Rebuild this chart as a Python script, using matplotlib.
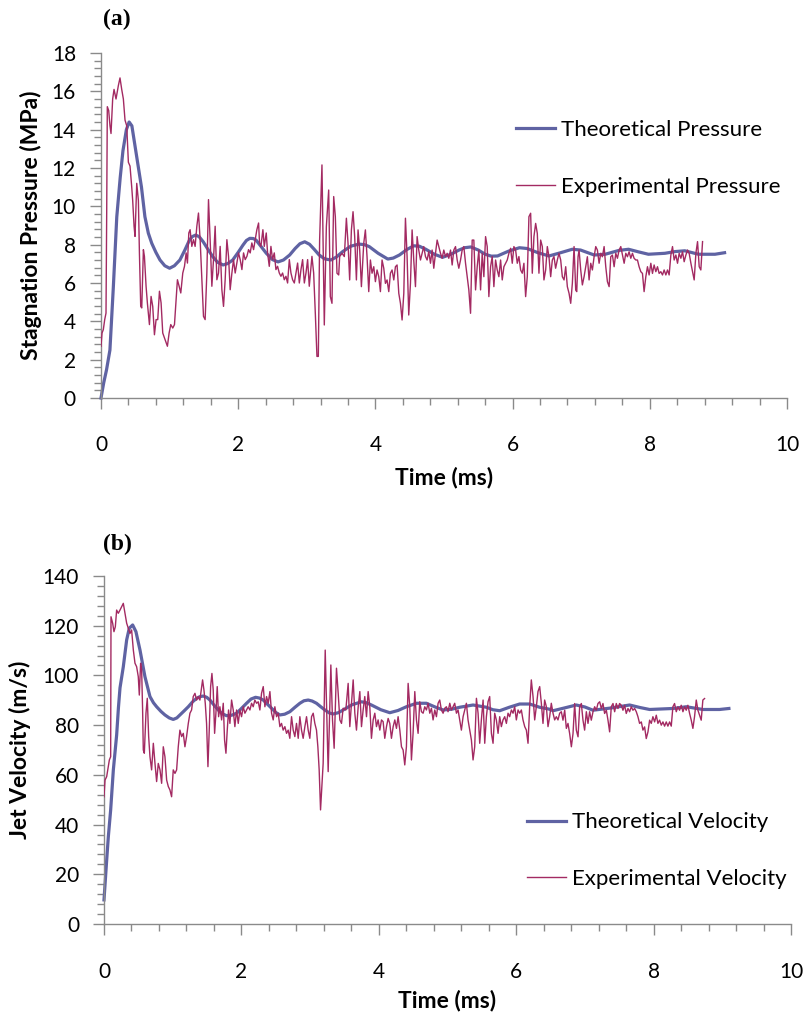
import numpy as np
import matplotlib
matplotlib.use("Agg")
import matplotlib.pyplot as plt
from matplotlib.ticker import MultipleLocator

# ---- data (time in ms) ----
theo_pressure = [
    (0.00, 0.0), (0.04, 0.8), (0.08, 1.46), (0.13, 2.5), (0.18, 5.8), (0.23, 9.45), (0.28, 11.5),
    (0.32, 12.9), (0.37, 14.0), (0.41, 14.4), (0.45, 14.2), (0.52, 12.6), (0.59, 11.0),
    (0.64, 9.46), (0.69, 8.6), (0.74, 8.07), (0.80, 7.6), (0.86, 7.2), (0.93, 6.9), (1.00, 6.77),
    (1.07, 6.9), (1.15, 7.2), (1.22, 7.7), (1.29, 8.24), (1.33, 8.42), (1.38, 8.5), (1.43, 8.42),
    (1.49, 8.15), (1.56, 7.75), (1.63, 7.37), (1.70, 7.08), (1.78, 6.94), (1.85, 7.02),
    (1.92, 7.2), (2.00, 7.6), (2.07, 7.98), (2.12, 8.22), (2.17, 8.33), (2.22, 8.32), (2.26, 8.24),
    (2.33, 7.92), (2.41, 7.55), (2.50, 7.22), (2.58, 7.1), (2.66, 7.2), (2.75, 7.46),
    (2.83, 7.8), (2.90, 8.05), (2.97, 8.15), (3.04, 8.02), (3.11, 7.75), (3.18, 7.46),
    (3.26, 7.26), (3.35, 7.2), (3.43, 7.35), (3.52, 7.63), (3.64, 7.92), (3.76, 8.03),
    (3.84, 8.0), (3.91, 7.9), (4.04, 7.55), (4.18, 7.25), (4.26, 7.3), (4.35, 7.46),
    (4.46, 7.75), (4.56, 7.94), (4.64, 7.92), (4.73, 7.77), (4.86, 7.5), (4.98, 7.34),
    (5.10, 7.5), (5.22, 7.72), (5.30, 7.84), (5.39, 7.88), (5.50, 7.72), (5.60, 7.5),
    (5.69, 7.4), (5.78, 7.41), (5.94, 7.66), (6.10, 7.84), (6.21, 7.8), (6.37, 7.58),
    (6.53, 7.41), (6.70, 7.58), (6.87, 7.76), (6.99, 7.72), (7.19, 7.46), (7.35, 7.5),
    (7.55, 7.7), (7.69, 7.76), (7.84, 7.62), (7.98, 7.5), (8.22, 7.55), (8.37, 7.64),
    (8.51, 7.68), (8.71, 7.5), (8.95, 7.5), (9.09, 7.58),
]

exp_pressure = [
    (0.000, 2.70), (0.015, 3.39), (0.034, 3.57), (0.054, 4.09), (0.073, 4.43), (0.083, 9.65),
    (0.092, 15.2), (0.112, 15.0), (0.131, 14.2), (0.146, 13.8), (0.170, 15.6), (0.190, 16.1),
    (0.219, 15.6), (0.253, 16.3), (0.277, 16.7), (0.302, 16.1), (0.326, 15.6), (0.350, 14.5),
    (0.375, 14.2), (0.399, 12.3), (0.423, 12.1), (0.448, 11.0), (0.462, 10.3), (0.482, 8.96),
    (0.496, 8.43), (0.521, 11.2), (0.545, 10.3), (0.560, 7.57), (0.579, 4.78), (0.594, 4.70),
    (0.618, 7.74), (0.633, 7.39), (0.657, 5.83), (0.676, 4.96), (0.706, 3.83), (0.730, 5.30),
    (0.754, 4.78), (0.779, 3.30), (0.803, 4.09), (0.827, 4.09), (0.852, 5.57), (0.876, 4.96),
    (0.900, 3.39), (0.934, 3.04), (0.968, 2.70), (0.993, 3.39), (1.017, 3.83), (1.046, 3.65),
    (1.071, 3.83), (1.095, 5.13), (1.114, 6.17), (1.139, 5.83), (1.163, 5.48), (1.192, 6.52),
    (1.217, 6.87), (1.241, 7.57), (1.260, 7.04), (1.280, 8.61), (1.299, 8.78), (1.324, 7.91),
    (1.348, 8.26), (1.372, 7.91), (1.397, 8.96), (1.421, 9.65), (1.445, 8.26), (1.470, 6.17),
    (1.494, 4.26), (1.518, 4.09), (1.543, 6.52), (1.567, 10.35), (1.591, 8.26), (1.616, 5.83),
    (1.640, 7.22), (1.664, 8.96), (1.689, 6.17), (1.713, 6.52), (1.737, 7.91), (1.762, 5.65),
    (1.786, 4.78), (1.810, 6.17), (1.835, 8.26), (1.859, 7.39), (1.883, 5.65), (1.908, 6.52),
    (1.932, 7.22), (1.956, 6.52), (1.981, 7.04), (2.005, 7.57), (2.029, 7.22), (2.054, 6.70),
    (2.078, 7.57), (2.102, 7.22), (2.127, 7.39), (2.151, 7.74), (2.175, 7.57), (2.199, 8.09),
    (2.224, 7.74), (2.248, 8.26), (2.272, 8.78), (2.297, 9.13), (2.311, 8.09), (2.331, 7.91),
    (2.360, 8.78), (2.380, 7.91), (2.409, 8.61), (2.428, 7.57), (2.453, 6.87), (2.477, 7.91),
    (2.501, 7.22), (2.526, 7.57), (2.550, 6.70), (2.574, 6.87), (2.599, 6.52), (2.623, 6.35),
    (2.647, 6.52), (2.672, 6.17), (2.696, 6.35), (2.720, 6.00), (2.745, 7.22), (2.769, 6.52),
    (2.793, 6.17), (2.818, 6.00), (2.842, 6.52), (2.866, 7.04), (2.891, 6.00), (2.915, 6.70),
    (2.939, 7.22), (2.964, 6.00), (2.988, 6.52), (3.012, 7.22), (3.036, 5.83), (3.061, 6.87),
    (3.075, 7.39), (3.100, 6.52), (3.124, 4.43), (3.148, 2.17), (3.168, 2.17), (3.187, 8.26),
    (3.221, 12.16), (3.255, 3.81), (3.285, 8.94), (3.319, 10.85), (3.343, 5.29), (3.367, 4.94),
    (3.392, 10.51), (3.416, 9.46), (3.440, 6.51), (3.465, 6.42), (3.479, 7.38), (3.513, 7.55),
    (3.547, 7.38), (3.577, 9.38), (3.601, 8.07), (3.625, 6.16), (3.650, 8.77), (3.674, 9.72),
    (3.698, 8.42), (3.723, 6.16), (3.747, 8.77), (3.771, 7.72), (3.796, 5.81), (3.830, 8.07),
    (3.854, 8.77), (3.878, 7.38), (3.903, 5.55), (3.927, 7.20), (3.951, 6.51), (3.976, 6.85),
    (4.000, 6.07), (4.024, 6.68), (4.049, 6.33), (4.073, 5.55), (4.097, 7.20), (4.122, 6.77),
    (4.146, 5.98), (4.170, 6.16), (4.195, 5.55), (4.219, 6.51), (4.243, 6.68), (4.268, 6.16),
    (4.292, 6.85), (4.316, 6.94), (4.341, 5.46), (4.365, 4.94), (4.389, 4.07), (4.414, 5.46),
    (4.438, 9.38), (4.462, 7.38), (4.486, 4.33), (4.511, 5.98), (4.535, 8.77), (4.559, 7.20),
    (4.584, 5.81), (4.608, 8.42), (4.632, 7.72), (4.657, 7.20), (4.681, 7.55), (4.705, 7.90),
    (4.730, 7.38), (4.754, 7.20), (4.778, 7.64), (4.803, 7.03), (4.827, 7.72), (4.851, 6.77),
    (4.876, 7.55), (4.900, 8.24), (4.924, 7.90), (4.949, 7.55), (4.973, 7.29), (4.997, 7.72),
    (5.022, 7.38), (5.046, 7.55), (5.070, 7.29), (5.095, 7.72), (5.119, 6.94), (5.143, 7.72),
    (5.168, 7.90), (5.192, 7.20), (5.216, 6.77), (5.241, 7.20), (5.265, 7.72), (5.289, 7.90),
    (5.314, 7.03), (5.338, 6.33), (5.362, 5.64), (5.387, 4.42), (5.411, 8.24), (5.435, 8.24),
    (5.460, 5.64), (5.484, 6.85), (5.508, 7.72), (5.533, 5.64), (5.557, 7.55), (5.581, 6.33),
    (5.606, 8.42), (5.630, 7.90), (5.654, 5.29), (5.679, 6.85), (5.703, 7.38), (5.727, 5.81),
    (5.752, 7.20), (5.776, 6.68), (5.800, 6.33), (5.825, 7.20), (5.849, 6.16), (5.873, 6.85),
    (5.898, 7.03), (5.922, 7.20), (5.946, 7.55), (5.971, 7.81), (5.995, 7.03), (6.019, 7.90),
    (6.044, 7.72), (6.068, 7.03), (6.092, 7.38), (6.117, 6.68), (6.141, 6.51), (6.165, 7.03),
    (6.190, 5.29), (6.214, 6.33), (6.238, 9.46), (6.263, 9.64), (6.287, 6.51), (6.311, 8.42),
    (6.336, 9.11), (6.360, 8.59), (6.384, 6.51), (6.409, 8.24), (6.433, 7.90), (6.457, 6.16),
    (6.482, 6.68), (6.506, 7.90), (6.530, 7.38), (6.555, 6.33), (6.579, 7.20), (6.603, 7.38),
    (6.627, 6.77), (6.652, 7.20), (6.676, 7.55), (6.701, 7.20), (6.725, 6.33), (6.750, 6.16),
    (6.774, 6.85), (6.798, 5.81), (6.823, 5.46), (6.847, 4.94), (6.871, 5.98), (6.896, 7.90),
    (6.920, 5.63), (6.935, 5.55), (6.954, 7.37), (6.969, 7.72), (6.993, 6.68), (7.017, 5.90),
    (7.042, 6.33), (7.066, 6.85), (7.090, 7.37), (7.115, 6.16), (7.139, 7.03), (7.163, 6.68),
    (7.188, 7.37), (7.212, 7.90), (7.236, 7.72), (7.261, 7.03), (7.285, 7.55), (7.309, 7.37),
    (7.334, 7.90), (7.358, 6.85), (7.382, 6.07), (7.407, 5.81), (7.431, 7.37), (7.455, 7.46),
    (7.480, 6.85), (7.504, 7.55), (7.528, 7.29), (7.553, 7.72), (7.577, 7.90), (7.601, 7.46),
    (7.626, 7.03), (7.650, 7.55), (7.674, 7.37), (7.698, 7.63), (7.723, 7.29), (7.747, 7.55),
    (7.771, 7.29), (7.796, 7.20), (7.820, 7.20), (7.844, 6.85), (7.869, 6.59), (7.893, 6.50),
    (7.917, 5.55), (7.942, 6.33), (7.966, 6.85), (7.990, 6.42), (8.015, 7.03), (8.039, 6.50),
    (8.063, 6.94), (8.088, 6.59), (8.112, 6.85), (8.136, 6.50), (8.161, 6.59), (8.185, 6.42),
    (8.209, 6.68), (8.234, 6.42), (8.258, 6.68), (8.282, 6.42), (8.307, 7.46), (8.331, 7.90),
    (8.355, 7.20), (8.380, 7.46), (8.404, 7.03), (8.428, 7.55), (8.453, 7.29), (8.477, 7.63),
    (8.501, 7.11), (8.526, 7.46), (8.550, 7.72), (8.574, 7.55), (8.599, 7.03), (8.623, 6.59),
    (8.647, 6.16), (8.672, 7.55), (8.696, 8.16), (8.720, 6.85), (8.744, 6.68), (8.769, 8.16),
]

theo_velocity = [
    (0.000, 9.7), (0.039, 25.7), (0.063, 35.1), (0.097, 45.9), (0.136, 62.0), (0.184, 76.0),
    (0.210, 87.0), (0.233, 95.0), (0.281, 103.5), (0.330, 114.3), (0.368, 119.0), (0.417, 120.3),
    (0.465, 117.6), (0.524, 110.2), (0.596, 99.5), (0.669, 91.5), (0.720, 89.0), (0.766, 87.4),
    (0.830, 85.5), (0.887, 84.1), (0.950, 82.9), (1.008, 82.3), (1.060, 82.9), (1.105, 84.1),
    (1.165, 85.7), (1.227, 87.4), (1.290, 89.4), (1.348, 90.8), (1.400, 91.5), (1.445, 91.7),
    (1.495, 91.2), (1.542, 90.1), (1.600, 88.1), (1.663, 86.1), (1.720, 84.6), (1.784, 83.8),
    (1.860, 84.0), (1.930, 84.8), (2.000, 86.7), (2.075, 88.8), (2.140, 90.5), (2.206, 91.2),
    (2.262, 90.9), (2.318, 90.1), (2.380, 88.4), (2.439, 86.8), (2.500, 85.1), (2.560, 84.1),
    (2.630, 84.4), (2.705, 85.4), (2.780, 87.2), (2.851, 88.8), (2.910, 89.8), (2.972, 90.1),
    (3.030, 89.7), (3.093, 88.8), (3.155, 87.4), (3.215, 86.1), (3.280, 84.9), (3.336, 84.5),
    (3.410, 85.0), (3.481, 86.1), (3.610, 88.2), (3.748, 89.4), (3.820, 89.0), (3.893, 88.1),
    (4.030, 86.2), (4.160, 85.0), (4.280, 85.9), (4.402, 87.4), (4.548, 88.8), (4.693, 88.8),
    (4.820, 87.3), (4.936, 86.1), (5.060, 86.4), (5.178, 87.2), (5.372, 88.1), (5.566, 87.2),
    (5.660, 86.2), (5.760, 85.8), (5.900, 87.2), (6.050, 88.5), (6.196, 88.5), (6.340, 87.2),
    (6.487, 86.4), (6.536, 85.8), (6.700, 86.9), (6.875, 88.1), (7.000, 87.3), (7.118, 86.0),
    (7.380, 86.9), (7.651, 88.1), (7.800, 87.1), (7.942, 86.3), (8.281, 86.7), (8.475, 87.4),
    (8.717, 86.3), (8.960, 86.3), (9.096, 86.7),
]

exp_velocity = [
    (0.000, 51.2), (0.015, 57.9), (0.039, 59.3), (0.063, 63.3), (0.078, 66.0), (0.097, 67.3),
    (0.102, 123.6), (0.126, 121.0), (0.145, 117.6), (0.165, 119.6), (0.184, 126.3), (0.208, 125.0),
    (0.233, 126.3), (0.257, 127.7), (0.281, 129.0), (0.305, 125.0), (0.330, 121.0), (0.354, 118.9),
    (0.378, 116.9), (0.402, 118.3), (0.427, 110.2), (0.451, 104.9), (0.475, 103.5), (0.499, 99.5),
    (0.514, 92.1), (0.533, 104.9), (0.548, 102.2), (0.562, 86.1), (0.572, 70.0), (0.587, 68.7),
    (0.611, 84.8), (0.630, 90.8), (0.650, 75.4), (0.669, 67.3), (0.693, 62.0), (0.718, 72.7),
    (0.742, 64.6), (0.766, 57.3), (0.790, 64.6), (0.815, 62.0), (0.839, 56.6), (0.863, 71.3),
    (0.887, 67.3), (0.912, 57.9), (0.936, 55.3), (0.960, 53.9), (0.984, 51.2), (1.008, 62.0),
    (1.033, 60.6), (1.057, 62.0), (1.081, 71.3), (1.105, 78.0), (1.130, 75.4), (1.154, 76.7),
    (1.178, 71.3), (1.202, 75.4), (1.227, 80.7), (1.251, 84.8), (1.275, 86.1), (1.299, 91.5),
    (1.324, 92.8), (1.348, 90.1), (1.372, 91.5), (1.396, 90.1), (1.421, 95.5), (1.435, 98.2),
    (1.455, 94.1), (1.474, 88.8), (1.493, 80.7), (1.513, 63.3), (1.532, 78.0), (1.552, 95.5),
    (1.571, 100.8), (1.590, 94.1), (1.610, 76.7), (1.629, 84.8), (1.648, 95.5), (1.668, 83.4),
    (1.687, 87.4), (1.712, 82.1), (1.736, 88.8), (1.755, 74.0), (1.775, 68.7), (1.794, 78.0),
    (1.813, 86.1), (1.833, 80.7), (1.857, 90.1), (1.881, 86.1), (1.905, 79.4), (1.930, 86.1),
    (1.954, 80.7), (1.978, 86.1), (2.002, 83.4), (2.027, 87.4), (2.051, 84.8), (2.075, 86.1),
    (2.099, 87.4), (2.124, 86.1), (2.148, 88.8), (2.172, 87.4), (2.196, 90.1), (2.221, 88.8),
    (2.245, 89.4), (2.269, 86.1), (2.293, 92.8), (2.318, 95.5), (2.342, 87.4), (2.366, 91.5),
    (2.390, 88.8), (2.415, 93.5), (2.439, 84.8), (2.463, 82.1), (2.487, 87.4), (2.512, 83.4),
    (2.536, 84.8), (2.560, 79.4), (2.584, 80.7), (2.608, 78.0), (2.633, 79.4), (2.657, 76.7),
    (2.681, 78.0), (2.705, 74.7), (2.730, 83.4), (2.754, 78.0), (2.778, 75.4), (2.802, 80.7),
    (2.827, 74.7), (2.851, 83.4), (2.875, 78.0), (2.899, 74.7), (2.924, 79.4), (2.948, 83.4),
    (2.972, 78.0), (2.996, 74.7), (3.021, 83.4), (3.045, 84.8), (3.069, 80.7), (3.093, 78.0),
    (3.113, 71.3), (3.132, 62.0), (3.152, 45.9), (3.190, 64.6), (3.220, 110.2), (3.263, 61.3),
    (3.302, 104.2), (3.326, 82.1), (3.350, 70.7), (3.384, 102.9), (3.409, 92.8), (3.433, 82.1),
    (3.457, 80.7), (3.481, 86.8), (3.520, 86.1), (3.554, 96.8), (3.578, 79.4), (3.603, 88.8),
    (3.627, 98.2), (3.651, 84.8), (3.675, 78.0), (3.700, 87.4), (3.724, 93.5), (3.748, 79.4),
    (3.772, 86.1), (3.796, 91.5), (3.821, 83.4), (3.845, 93.5), (3.869, 87.4), (3.893, 74.7),
    (3.918, 82.1), (3.942, 84.8), (3.966, 79.4), (3.990, 82.1), (4.015, 78.0), (4.039, 82.1),
    (4.063, 81.4), (4.087, 74.7), (4.112, 79.4), (4.136, 82.7), (4.160, 80.7), (4.184, 74.7),
    (4.209, 79.4), (4.233, 82.1), (4.257, 78.7), (4.281, 83.4), (4.306, 78.0), (4.330, 71.3),
    (4.354, 70.0), (4.378, 64.0), (4.402, 71.3), (4.427, 96.8), (4.451, 87.4), (4.475, 66.0),
    (4.499, 76.7), (4.524, 93.5), (4.548, 82.1), (4.572, 76.7), (4.596, 89.4), (4.621, 85.4),
    (4.645, 84.8), (4.669, 87.4), (4.693, 86.1), (4.718, 88.8), (4.742, 84.8), (4.766, 86.8),
    (4.790, 82.1), (4.815, 86.1), (4.839, 83.4), (4.863, 88.8), (4.887, 90.1), (4.911, 86.1),
    (4.936, 84.8), (4.960, 86.8), (4.984, 87.4), (5.008, 85.4), (5.033, 88.8), (5.057, 86.1),
    (5.081, 87.4), (5.105, 88.8), (5.130, 84.8), (5.154, 86.1), (5.178, 82.1), (5.202, 78.0),
    (5.227, 83.4), (5.251, 86.1), (5.275, 88.8), (5.299, 82.1), (5.324, 78.0), (5.348, 74.0),
    (5.372, 66.0), (5.396, 71.3), (5.421, 90.8), (5.445, 84.8), (5.469, 72.7), (5.493, 82.1),
    (5.518, 90.1), (5.542, 72.7), (5.566, 83.4), (5.590, 89.4), (5.614, 91.5), (5.639, 76.7),
    (5.663, 72.7), (5.687, 84.8), (5.711, 82.1), (5.736, 76.7), (5.760, 83.4), (5.784, 79.4),
    (5.808, 82.1), (5.833, 83.4), (5.857, 80.7), (5.881, 84.8), (5.905, 83.4), (5.930, 86.1),
    (5.954, 84.8), (5.978, 87.4), (6.002, 82.1), (6.027, 86.1), (6.051, 84.8), (6.075, 86.1),
    (6.099, 82.1), (6.124, 79.4), (6.148, 78.0), (6.172, 72.7), (6.196, 87.4), (6.220, 98.2),
    (6.245, 91.5), (6.269, 82.1), (6.293, 87.4), (6.317, 93.5), (6.342, 95.5), (6.366, 88.8),
    (6.390, 80.7), (6.414, 90.1), (6.439, 87.4), (6.463, 79.4), (6.487, 83.4), (6.511, 88.8),
    (6.536, 84.8), (6.560, 82.1), (6.584, 83.4), (6.608, 82.1), (6.633, 84.8), (6.657, 85.4),
    (6.681, 82.0), (6.706, 86.0), (6.730, 78.7), (6.754, 80.7), (6.778, 76.6), (6.803, 71.3),
    (6.827, 76.6), (6.851, 88.7), (6.875, 78.0), (6.900, 75.3), (6.924, 87.4), (6.948, 88.7),
    (6.972, 82.0), (6.996, 78.0), (7.021, 85.4), (7.045, 80.7), (7.069, 85.4), (7.093, 82.0),
    (7.118, 85.4), (7.142, 87.4), (7.166, 86.0), (7.190, 88.7), (7.215, 89.4), (7.239, 86.7),
    (7.263, 88.7), (7.287, 84.7), (7.312, 86.0), (7.336, 82.0), (7.360, 77.3), (7.384, 87.4),
    (7.409, 88.7), (7.433, 85.4), (7.457, 88.7), (7.481, 86.7), (7.505, 88.7), (7.530, 88.0),
    (7.554, 86.0), (7.578, 88.0), (7.602, 84.7), (7.627, 86.7), (7.651, 85.4), (7.675, 87.4),
    (7.699, 86.0), (7.724, 86.7), (7.748, 85.4), (7.772, 83.4), (7.796, 80.7), (7.821, 81.3),
    (7.845, 78.0), (7.869, 79.3), (7.893, 74.6), (7.918, 77.3), (7.942, 82.0), (7.966, 80.7),
    (7.990, 83.4), (8.015, 81.3), (8.039, 84.0), (8.063, 80.7), (8.087, 82.0), (8.112, 80.0),
    (8.136, 81.3), (8.160, 79.6), (8.184, 81.3), (8.208, 79.6), (8.233, 81.3), (8.257, 79.6),
    (8.281, 87.4), (8.305, 88.7), (8.330, 85.4), (8.354, 87.4), (8.378, 86.0), (8.402, 88.0),
    (8.427, 85.4), (8.451, 87.4), (8.475, 86.0), (8.499, 88.0), (8.524, 84.7), (8.548, 82.0),
    (8.572, 78.7), (8.596, 83.4), (8.621, 90.1), (8.645, 86.0), (8.669, 84.0), (8.693, 82.0),
    (8.717, 90.1), (8.742, 90.7),
]

BLUE = "#5f63a3"
RED = "#a32a62"
GREY = "#8a8a8a"

plt.rcParams["font.family"] = ["Lato", "DejaVu Sans"]

TICK_FS = 15
LABEL_FS = 16.5
LEG_FS = 16


def style_axes(ax, ymax, ymajor, yminor):
    ax.set_xlim(0, 10)
    ax.set_ylim(0, ymax)
    ax.xaxis.set_major_locator(MultipleLocator(2))
    ax.xaxis.set_minor_locator(MultipleLocator(0.4))
    ax.yaxis.set_major_locator(MultipleLocator(ymajor))
    ax.yaxis.set_minor_locator(MultipleLocator(yminor))
    for side in ["top", "right"]:
        ax.spines[side].set_visible(False)
    for side in ["left", "bottom"]:
        ax.spines[side].set_color(GREY)
        ax.spines[side].set_linewidth(1.0)
    ax.tick_params(which="major", direction="out", length=8, width=1, color=GREY,
                   labelsize=TICK_FS, labelcolor="black")
    ax.tick_params(which="minor", direction="out", length=5, width=1, color=GREY)
    ax.tick_params(axis="x", which="major", pad=19)
    ax.tick_params(axis="y", which="major", pad=10)


def draw_panel(ax, theo, exp, theo_label, exp_label):
    tt, yt = np.array(theo).T
    te, ye = np.array(exp).T
    ax.plot(tt, yt, color=BLUE, lw=2.3, label=theo_label, clip_on=False, zorder=2,
            solid_joinstyle="round")
    ax.plot(te, ye, color=RED, lw=1.0, label=exp_label, zorder=3)


def add_legend(ax, x, y):
    ax.legend(loc="upper left", bbox_to_anchor=(x, y), frameon=False, fontsize=LEG_FS,
              handlelength=1.76, handletextpad=0.25, labelspacing=1.65, borderpad=0,
              borderaxespad=0)


fig = plt.figure(figsize=(8.06, 10.27), dpi=100)

ax1 = fig.add_axes([101 / 806, 1 - 398 / 1027, 686 / 806, 345 / 1027])
draw_panel(ax1, theo_pressure, exp_pressure, "Theoretical Pressure", "Experimental Pressure")
style_axes(ax1, 18, 2, 0.4)
ax1.set_xlabel("Time (ms)", fontsize=LABEL_FS, fontweight="bold")
ax1.xaxis.set_label_coords(0.5, -0.2)
ax1.set_ylabel("Stagnation Pressure (MPa)", fontsize=LABEL_FS, fontweight="bold")
ax1.yaxis.set_label_coords(-0.086, 0.5)
add_legend(ax1, 0.605, 0.805)

ax2 = fig.add_axes([104 / 806, 1 - 924 / 1027, 687 / 806, 348 / 1027])
draw_panel(ax2, theo_velocity, exp_velocity, "Theoretical Velocity", "Experimental Velocity")
style_axes(ax2, 140, 20, 4)
ax2.set_xlabel("Time (ms)", fontsize=LABEL_FS, fontweight="bold")
ax2.xaxis.set_label_coords(0.5, -0.19)
ax2.set_ylabel("Jet Velocity (m/s)", fontsize=LABEL_FS, fontweight="bold")
ax2.yaxis.set_label_coords(-0.106, 0.5)
add_legend(ax2, 0.616, 0.321)

fig.text(103 / 806, 1 - 19 / 1027, "(a)", family=["Liberation Serif", "DejaVu Serif"],
         fontweight="bold", fontsize=17, va="center", ha="left")
fig.text(103 / 806, 1 - 544 / 1027, "(b)", family=["Liberation Serif", "DejaVu Serif"],
         fontweight="bold", fontsize=17, va="center", ha="left")

fig.savefig("out.png", dpi=100)
